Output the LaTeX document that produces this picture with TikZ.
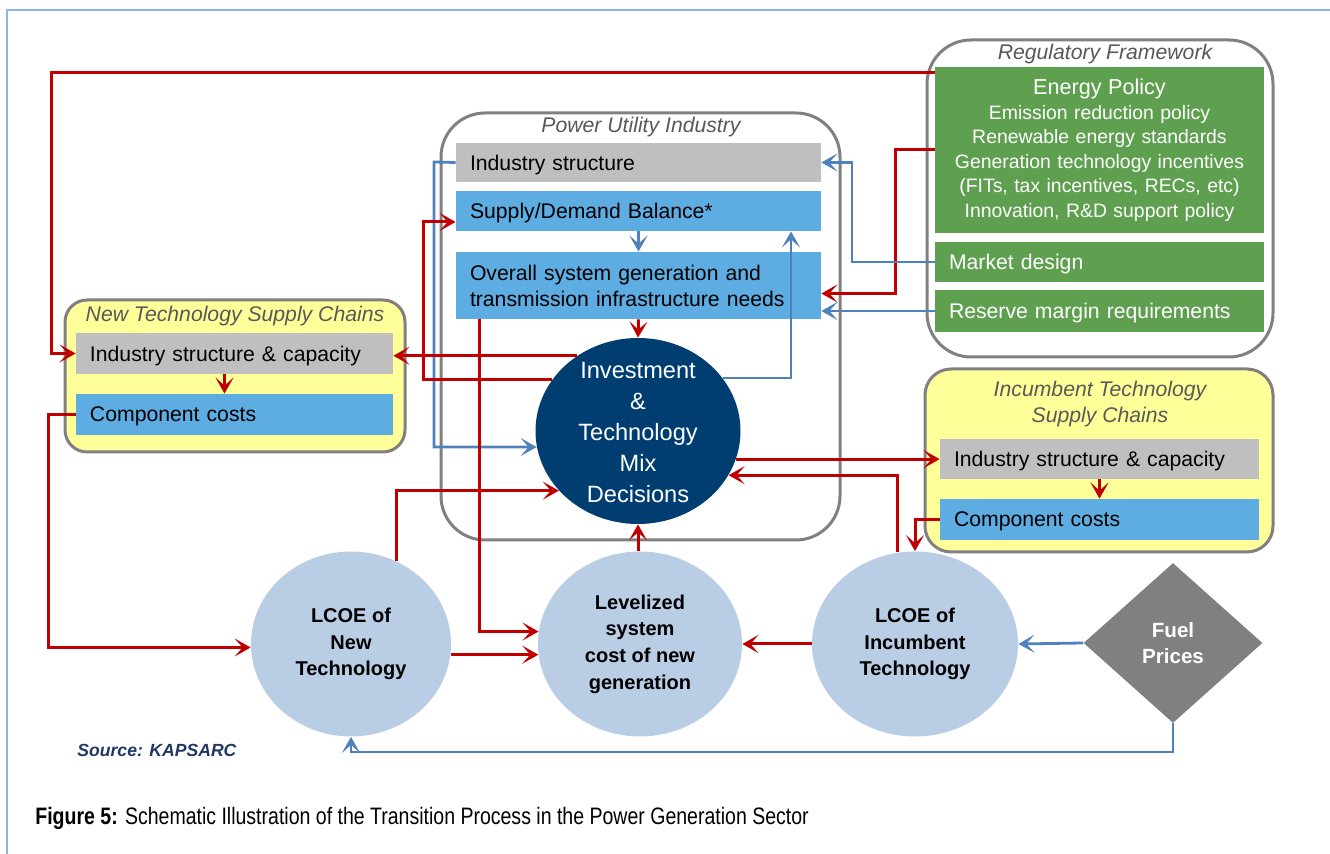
\documentclass[tikz,border=0pt]{standalone}
\usepackage{fontspec}
\setmainfont{Liberation Sans}
\newfontfamily\narrowfont[FakeStretch=0.82]{Liberation Sans}
\usetikzlibrary{calc}
\usetikzlibrary{shapes.geometric}
\usetikzlibrary{arrows.meta}
\definecolor{kred}{RGB}{192,0,0}
\definecolor{kblue}{RGB}{79,129,189}
\definecolor{kgrey}{RGB}{191,191,191}
\definecolor{ksky}{RGB}{94,173,226}
\definecolor{kyellow}{RGB}{255,255,153}
\definecolor{kgreen}{RGB}{95,160,80}
\definecolor{knavy}{RGB}{0,62,114}
\definecolor{kpale}{RGB}{185,205,229}
\definecolor{kframe}{RGB}{128,128,128}
\definecolor{ktitle}{RGB}{89,89,89}
\definecolor{ksource}{RGB}{31,56,100}
\definecolor{kborder}{RGB}{141,180,226}
\newcommand{\cellbox}[7]{\pgfmathsetlengthmacro{\cellw}{(#4-#2)*0.5pt}\pgfmathsetlengthmacro{\cellh}{(#5-#3)*0.5pt}\pgfmathsetlengthmacro{\celltw}{(#4-#2-28)*0.5pt}\node[#6, minimum width=\cellw, minimum height=\cellh, text width=\celltw] (#1) at ({(#2+#4)/2},{(#3+#5)/2}) {#7};}
\tikzset{
  pane/.style={draw=kframe, line width=1.5pt, rounded corners=#1},
  paneTitle/.style={text=ktitle, font=\itshape\fontsize{10.6}{13}\selectfont, inner sep=0pt},
  greybox/.style={fill=kgrey, inner xsep=7pt, inner ysep=0pt, align=left, font=\fontsize{10.6}{13}\selectfont},
  skybox/.style={greybox, fill=ksky},
  greenbox/.style={greybox, fill=kgreen, text=white},
  oneline/.style={text depth=0pt},
  policy/.style={greenbox, align=center, font=\fontsize{9.7}{12.25}\selectfont},
  decision/.style={ellipse, fill=knavy, inner sep=0pt, minimum width=102.5pt, minimum height=93pt},
  decisionText/.style={text=white, align=center, inner sep=0pt, font=\fontsize{11.8}{15.5}\selectfont},
  cost/.style={ellipse, fill=kpale, inner sep=0pt, align=center, minimum width=100pt, minimum height=92.5pt, font=\bfseries\fontsize{10}{13.3}\selectfont},
  fuelbox/.style={diamond, fill=kframe, inner sep=0pt, align=center, minimum width=89.5pt, minimum height=80pt, text=white, font=\bfseries\fontsize{10.3}{13}\selectfont},
  redarr/.style={draw=kred, line width=1.5pt, -{Stealth[length=8pt,width=9pt,inset=4pt]}},
  bluarr/.style={draw=kblue, line width=1.4pt, -{Stealth[length=8pt,width=9pt,inset=4pt]}}
}

\begin{document}
\begin{tikzpicture}[x=0.5pt,y=-0.5pt]
        \useasboundingbox (0,0) rectangle (1330,854);
        % frame
        \draw[kborder, line width=0.75pt] (7,854) -- (7,10) -- (1330,10);
        % panes
        \cellbox{reg}{927}{40}{1273}{357}{pane=22pt, fill=white}{}
        \cellbox{pui}{441}{113}{840}{540}{pane=22pt}{}
        \cellbox{nts}{65}{300}{405}{452}{pane=11pt, fill=kyellow}{}
        \cellbox{its}{925}{369}{1273}{552}{pane=13pt, fill=kyellow}{}
        \node[paneTitle] (regT) at (1105,54) {Regulatory Framework};
        \node[paneTitle] (puiT) at (641,127) {Power Utility Industry};
        \node[paneTitle] (ntsT) at (235,316) {New Technology Supply Chains};
        \node[paneTitle, align=center] (itsT) at (1100,404) {Incumbent Technology\\Supply Chains};
        % regulatory framework
        \cellbox{epol}{935}{67}{1264}{233}{policy}{{\fontsize{10.8}{12.25}\selectfont Energy Policy}\\Emission reduction policy\\Renewable energy standards\\Generation technology incentives\\(FITs, tax incentives, RECs, etc)\\Innovation, R\&D support policy}
        \cellbox{mkt}{935}{242}{1264}{282}{greenbox, oneline}{Market design}
        \cellbox{res}{935}{290}{1264}{332}{greenbox, oneline}{Reserve margin requirements}
        % power utility industry
        \cellbox{istr}{456}{143}{821}{182}{greybox, oneline}{Industry structure}
        \cellbox{sdb}{456}{191}{821}{231}{skybox, oneline}{Supply/Demand Balance*}
        \cellbox{ovr}{456}{252}{821}{319}{skybox}{Overall system generation and\\transmission infrastructure needs}
        % supply chains
        \cellbox{nind}{76}{333}{393}{374}{greybox, oneline}{Industry structure \& capacity}
        \cellbox{ncost}{76}{394}{393}{435}{skybox, oneline}{Component costs}
        \cellbox{iind}{940}{439}{1259}{479}{greybox, oneline}{Industry structure \& capacity}
        \cellbox{icost}{940}{499}{1259}{540}{skybox, oneline}{Component costs}
        % decisions and costs
        \node[decision] (inv) at (638,431) {};
        \node[decisionText] (invT) at ([yshift=-1pt]inv.center) {Investment\\\&\\Technology\\Mix\\Decisions};
        \node[cost] (lnew) at (351,644) {LCOE of\\New\\Technology};
        \node[cost, minimum width=102pt] (lev) at (640,644) {Levelized\\system\\cost of new\\generation};
        \node[cost, minimum width=103pt] (inc) at (915,644) {LCOE of\\Incumbent\\Technology};
        \node[fuelbox] (fuel) at (1173,643) {Fuel\\Prices};
        % regulatory links
        \coordinate (tbend) at (51,73);
        \draw[redarr] (tbend -| epol.west) -- (tbend) |- (nind.west);
        \coordinate (rbend) at (895,150);
        \draw[redarr] (epol.west) -- (rbend) |- ($(ovr.east)+(0,8)$);
        \coordinate (mbend) at (852,262);
        \draw[bluarr] (mkt.west) -- (mbend) |- (istr.east);
        \draw[bluarr] (res.west) -- (res.west -| ovr.east);
        % utility links
        \coordinate (ibend) at (434,162);
        \draw[bluarr] (istr.west) -- (ibend) |- (inv.189);
        \draw[bluarr] (sdb.south) -- (ovr.north);
        \coordinate (ubend) at (791,0);
        \draw[bluarr] (inv.32) -| (ubend |- sdb.south);
        \draw[redarr] (ovr.south) -- (inv.north);
        \draw[redarr] (inv.129) -- (inv.129 -| nind.east);
        \coordinate (sbend) at (423,0);
        \draw[redarr] (inv.149) -| ($(sbend |- sdb.west)+(0,11)$) -- ($(sdb.west)+(0,11)$);
        % cost links
        \draw[redarr] ($(nind.south)+(-10,0)$) -- ($(ncost.north)+(-10,0)$);
        \coordinate (cbend) at (48,0);
        \draw[redarr] (ncost.west) -| (cbend |- lnew.182) -- (lnew.182);
        \draw[redarr] (lnew.61) |- (inv.217);
        \draw[redarr] (lev.186 -| lnew.east) -- (lev.186);
        \draw[redarr] ($(ovr.south west)+(24,0)$) |- (lev.173);
        \draw[redarr] (inv.south |- lev.north) -- (inv.south);
        \draw[redarr] (inc.west) -- (lev.east);
        \draw[redarr] (inv.-16) -- (inv.-16 -| iind.west);
        \draw[redarr] (inc.101) |- (inv.-26);
        \draw[redarr] (iind.south) -- (icost.north);
        \draw[redarr] (icost.west) -| (inc.north);
        \draw[bluarr] (fuel.west) -- (inc.east);
        \coordinate (fbend) at (0,752);
        \draw[bluarr] (fuel.south) |- (fbend -| lnew.south) -- (lnew.south);
        % source and caption
        \node[text=ksource, anchor=west, inner sep=0pt, font=\bfseries\itshape\fontsize{8.8}{10}\selectfont] (src) at (77,750) {Source: KAPSARC};
        \node[anchor=west, inner sep=0pt, font=\narrowfont\fontsize{11.9}{14}\selectfont] (cap) at (35,818) {\textbf{Figure 5:} Schematic Illustration of the Transition Process in the Power Generation Sector};
\end{tikzpicture}
\end{document}
